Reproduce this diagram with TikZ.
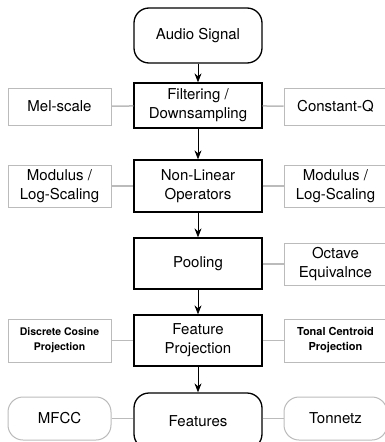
\documentclass[tikz,border=0pt]{standalone}
\usepackage{fontspec}
\setmainfont{TeX Gyre Heros}
\usetikzlibrary{arrows.meta}
\definecolor{sidegray}{HTML}{BBBBBB}
\begin{document}
\begin{tikzpicture}[x=1pt, y=-1pt, >={Stealth[length=9pt,width=7pt]}, thick,
  main node/.style={rectangle,draw,line width=1.3pt,minimum width=128pt,inner sep=0pt,align=center,font=\fontsize{15}{19}\selectfont},
  end node/.style={main node,rounded corners=15pt},
  side node/.style={rectangle,draw=sidegray,line width=1pt,minimum width=103pt,minimum height=42pt,inner sep=0pt,align=center,font=\fontsize{15}{19}\selectfont},
  side end/.style={side node,rounded corners=15pt,minimum height=43pt},
  small text/.style={minimum height=43pt,font=\fontsize{11}{15}\selectfont\bfseries},
  link/.style={draw=sidegray,line width=1.5pt}]
\useasboundingbox (0,0) rectangle (384,442);
% main chain
\node [end node, minimum height=55pt](audio) at (198,35.5) {Audio Signal};
\node [main node, minimum height=45pt](filt) at (198,105.5) {Filtering /\\Downsampling};
\node [main node, minimum height=52pt](nonlin) at (198,186) {Non-Linear\\Operators};
\node [main node, minimum height=51pt](pool) at (198,263.5) {Pooling};
\node [main node, minimum height=51pt](proj) at (198,340.5) {Feature\\Projection};
\node [end node, minimum height=56pt](feat) at (198,421) {Features};
% side boxes
\node [side node, minimum height=37pt](mel) at (59.5,106.5) {Mel-scale};
\node [side node, minimum height=37pt](cq) at (335.5,106.5) {Constant-Q};
\node [side node](modl) at (59.5,186) {Modulus /\\Log-Scaling};
\node [side node](modr) at (335.5,186) {Modulus /\\Log-Scaling};
\node [side node](oct) at (335.5,264) {Octave\\Equivalnce};
\node [side node, small text, font=\fontsize{10.5}{15}\selectfont\bfseries](dct) at (59.5,340.5) {Discrete Cosine\\Projection};
\node [side node, small text](tc) at (335.5,340.5) {Tonal Centroid\\Projection};
\node [side end](mfcc) at (59.5,418.5) {MFCC};
\node [side end](tonn) at (335.5,418.5) {Tonnetz};
% arrows
\draw [->] (audio) -- (filt);
\draw [->] (filt) -- (nonlin);
\draw [->] (nonlin) -- (pool);
\draw [->] (pool) -- (proj);
\draw [->] (proj) -- (feat);
% side links
\draw [link] (mel) -- (filt);
\draw [link] (filt) -- (cq);
\draw [link] (modl) -- (nonlin);
\draw [link] (nonlin) -- (modr);
\draw [link] (pool.east |- oct) -- (oct);
\draw [link] (dct) -- (proj);
\draw [link] (proj) -- (tc);
\draw [link] (mfcc) -- (feat.west |- mfcc);
\draw [link] (feat.east |- tonn) -- (tonn);
\end{tikzpicture}
\end{document}
